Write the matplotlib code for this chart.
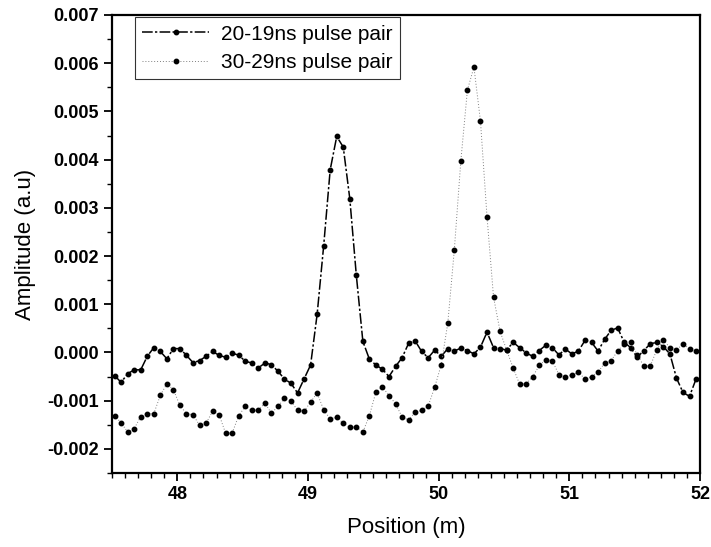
import numpy as np
import matplotlib
matplotlib.use("Agg")
import matplotlib.pyplot as plt
from matplotlib.ticker import MultipleLocator, FormatStrFormatter

plt.rcParams['font.family'] = ['Liberation Sans', 'DejaVu Sans']
plt.rcParams['axes.unicode_minus'] = False

# positions along the fibre (m), 0.05 m sampling
position = 47.52 + 0.05 * np.arange(90)

# amplitudes, in units of 1e-3
amp_20_19 = [-0.48, -0.62, -0.44, -0.36, -0.36, -0.08, 0.10, 0.02, -0.13, 0.08,
             0.08, -0.06, -0.21, -0.17, -0.08, 0.02, -0.06, -0.10, -0.01, -0.06,
             -0.18, -0.22, -0.32, -0.22, -0.25, -0.39, -0.55, -0.64, -0.84, -0.55,
             -0.26, 0.79, 2.21, 3.79, 4.48, 4.26, 3.19, 1.60, 0.23, -0.14,
             -0.26, -0.35, -0.50, -0.29, -0.11, 0.19, 0.24, 0.02, -0.11, 0.05,
             -0.08, 0.08, 0.03, 0.09, 0.04, -0.03, 0.11, 0.42, 0.10, 0.08,
             0.05, 0.21, 0.10, -0.01, -0.08, 0.04, 0.15, 0.10, -0.05, 0.07,
             -0.03, 0.03, 0.25, 0.21, 0.03, 0.27, 0.46, 0.51, 0.21, 0.10,
             -0.10, 0.04, 0.18, 0.21, 0.12, -0.03, -0.53, -0.83, -0.91, -0.55]

amp_30_29 = [-1.31, -1.46, -1.65, -1.58, -1.33, -1.27, -1.27, -0.89, -0.65, -0.77,
             -1.10, -1.27, -1.29, -1.51, -1.47, -1.22, -1.29, -1.68, -1.67, -1.31,
             -1.12, -1.20, -1.20, -1.05, -1.26, -1.12, -0.95, -1.00, -1.20, -1.22,
             -1.03, -0.84, -1.19, -1.38, -1.34, -1.47, -1.55, -1.55, -1.65, -1.31,
             -0.82, -0.71, -0.90, -1.06, -1.34, -1.40, -1.24, -1.20, -1.11, -0.72,
             -0.25, 0.61, 2.13, 3.98, 5.44, 5.92, 4.80, 2.82, 1.15, 0.44,
             0.05, -0.32, -0.66, -0.65, -0.50, -0.27, -0.15, -0.17, -0.46, -0.50,
             -0.46, -0.41, -0.55, -0.50, -0.41, -0.22, -0.17, 0.03, 0.18, 0.21,
             -0.05, -0.28, -0.28, 0.06, 0.26, 0.10, 0.06, 0.17, 0.08, 0.04]

labels = ["20-19ns pulse pair", "30-29ns pulse pair"]

fig = plt.figure(figsize=(7.11, 5.47), dpi=100)
ax = fig.add_axes([0.1575, 0.1353, 0.827, 0.8373])

ax.plot(position, np.array(amp_20_19) * 1e-3, color="k", lw=1.1,
        linestyle=(0, (7, 1.5, 1.5, 1.5)), marker="o", ms=3.2,
        label=labels[0])
ax.plot(position, np.array(amp_30_29) * 1e-3, color="0.5", lw=0.7,
        linestyle=(0, (1, 2)), marker="o", ms=3.2, mfc="k", mec="k",
        label=labels[1])

ax.set_xlim(47.5, 52)
ax.set_ylim(-0.0025, 0.007)
ax.xaxis.set_major_locator(MultipleLocator(1))
ax.xaxis.set_minor_locator(MultipleLocator(0.1))
ax.yaxis.set_major_locator(MultipleLocator(0.001))
ax.yaxis.set_minor_locator(MultipleLocator(0.0005))
ax.yaxis.set_major_formatter(FormatStrFormatter("%.3f"))

ax.tick_params(which="major", direction="out", length=6, width=1.3, labelsize=13)
ax.tick_params(which="minor", direction="out", length=3.5, width=1.0)
for lab in ax.get_xticklabels() + ax.get_yticklabels():
    lab.set_fontweight("bold")
for s in ax.spines.values():
    s.set_linewidth(1.6)

ax.set_xlabel("Position (m)", fontsize=16, labelpad=10)
ax.set_ylabel("Amplitude (a.u)", fontsize=16, labelpad=8)

leg = ax.legend(loc="upper left", bbox_to_anchor=(0.039, 0.995),
                borderaxespad=0, fontsize=15, frameon=True, fancybox=False,
                handlelength=3.2, handletextpad=0.6, borderpad=0.35,
                labelspacing=0.45)
leg.get_frame().set_edgecolor("k")
leg.get_frame().set_linewidth(0.8)

fig.savefig("out.png", dpi=100)
